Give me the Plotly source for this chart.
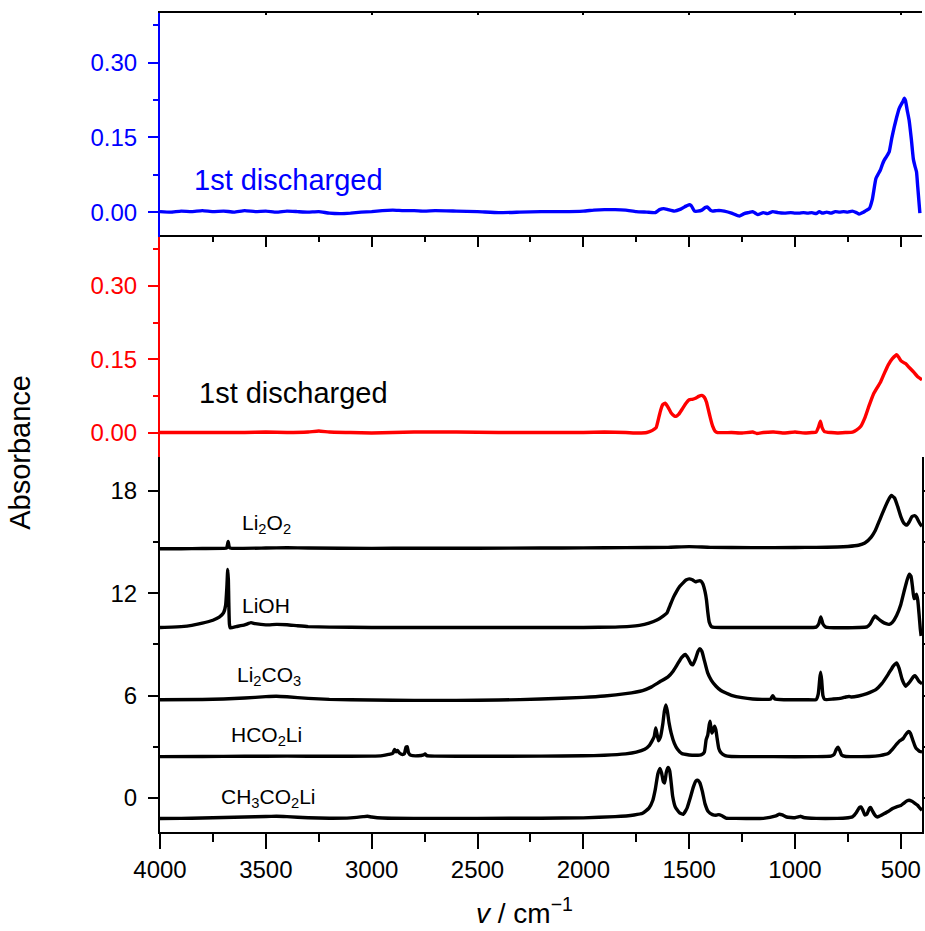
import plotly.graph_objects as go

# ---------------- spectra (wavenumber in cm^-1, absorbance) ----------------
# top panel: 1st discharged electrode (blue)
wn_blue = [4000, 3950, 3900, 3850, 3800, 3750, 3700, 3650, 3600, 3550, 3500, 3450, 3400, 3350,
           3300, 3250, 3200, 3150, 3100, 3050, 3000, 2950, 2900, 2850, 2800, 2750, 2700, 2600,
           2500, 2400, 2300, 2200, 2100, 2000, 1950, 1900, 1850, 1800, 1750, 1700, 1660, 1640,
           1620, 1600, 1570, 1540, 1515, 1500, 1490, 1475, 1460, 1440, 1425, 1413, 1400, 1389,
           1370, 1350, 1334, 1300, 1263, 1240, 1220, 1200, 1176, 1150, 1130, 1105, 1080, 1050,
           1020, 1000, 980, 960, 940, 920, 900, 885, 870, 850, 830, 810, 790, 770, 750, 730, 710,
           697, 680, 665, 649, 635, 618, 605, 597, 588, 579, 567, 555, 543, 531, 520, 508, 496,
           490, 484, 478, 470, 461, 450, 441, 433, 426, 420, 410]
ab_blue = [0.001, 0.000, 0.002, 0.001, 0.003, 0.001, 0.002, 0.000, 0.003, 0.001, 0.002, 0.000,
           0.002, 0.001, 0.000, 0.001, -0.002, -0.003, -0.002, 0.000, 0.001, 0.003, 0.004, 0.003,
           0.003, 0.002, 0.003, 0.002, 0.001, -0.001, 0.000, 0.001, 0.001, 0.002, 0.004, 0.005,
           0.005, 0.004, 0.001, 0.000, -0.001, 0.005, 0.007, 0.005, 0.002, 0.006, 0.012, 0.015,
           0.013, 0.002, 0.002, 0.004, 0.009, 0.010, 0.004, 0.002, 0.003, 0.003, 0.002, -0.002,
           -0.008, -0.003, -0.001, 0.001, -0.005, -0.001, -0.003, 0.001, -0.001, -0.002, -0.001,
           -0.002, -0.002, -0.001, -0.002, -0.001, -0.003, 0.001, -0.002, 0.000, -0.002, 0.001,
           0.000, 0.001, 0.000, 0.002, -0.001, -0.004, -0.001, 0.003, 0.007, 0.025, 0.067, 0.078,
           0.084, 0.095, 0.104, 0.112, 0.121, 0.148, 0.171, 0.190, 0.208, 0.218, 0.222, 0.229,
           0.224, 0.205, 0.185, 0.145, 0.107, 0.092, 0.081, 0.050, -0.002]

# middle panel: 1st discharged electrode (red)
wn_red = [4000, 3800, 3600, 3500, 3400, 3300, 3250, 3200, 3100, 3000, 2900, 2800, 2600, 2400,
          2200, 2000, 1900, 1800, 1740, 1700, 1680, 1665, 1656, 1645, 1635, 1625, 1613, 1600,
          1585, 1570, 1562, 1550, 1530, 1515, 1500, 1485, 1470, 1455, 1440, 1428, 1418, 1410,
          1400, 1389, 1378, 1366, 1300, 1250, 1200, 1180, 1150, 1100, 1050, 1000, 950, 920, 900,
          890, 880, 872, 861, 830, 800, 760, 728, 710, 689, 670, 650, 630, 610, 595, 579, 560,
          540, 520, 510, 500, 490, 477, 460, 440, 420, 400]
ab_red = [0.000, 0.000, 0.000, 0.001, 0.000, 0.001, 0.003, 0.001, 0.000, -0.001, 0.000, 0.001,
          0.001, 0.000, 0.000, 0.000, 0.001, 0.000, -0.001, 0.000, 0.003, 0.007, 0.010, 0.028,
          0.045, 0.057, 0.060, 0.052, 0.040, 0.034, 0.033, 0.037, 0.050, 0.060, 0.067, 0.068,
          0.070, 0.074, 0.076, 0.072, 0.062, 0.048, 0.030, 0.013, 0.003, 0.000, 0.000, -0.001,
          0.001, -0.002, 0.000, 0.001, -0.001, 0.001, -0.001, 0.000, 0.001, 0.010, 0.023, 0.010,
          0.002, 0.000, -0.001, 0.000, 0.001, 0.005, 0.013, 0.030, 0.055, 0.078, 0.093, 0.104,
          0.120, 0.138, 0.151, 0.159, 0.154, 0.147, 0.144, 0.141, 0.133, 0.124, 0.114, 0.108]

# bottom panel: reference compounds, stacked with vertical offsets
wn_li2o2 = [4000, 3900, 3800, 3700, 3685, 3678, 3672, 3660, 3500, 3400, 3300, 3000, 2800, 2500,
            2200, 2000, 1800, 1600, 1500, 1400, 1200, 1000, 900, 800, 750, 700, 670, 640, 620,
            600, 580, 560, 545, 530, 515, 500, 485, 472, 460, 448, 435, 425, 415, 405, 400]
ab_li2o2 = [14.62, 14.62, 14.63, 14.64, 14.66, 15.05, 14.68, 14.64, 14.66, 14.68, 14.66, 14.64,
            14.65, 14.65, 14.66, 14.67, 14.68, 14.70, 14.74, 14.70, 14.68, 14.69, 14.70, 14.72,
            14.75, 14.82, 14.95, 15.30, 15.70, 16.30, 16.90, 17.45, 17.74, 17.60, 17.10, 16.50,
            16.10, 16.00, 16.20, 16.50, 16.56, 16.45, 16.20, 16.00, 15.95]

wn_lioh = [4000, 3900, 3850, 3800, 3750, 3720, 3700, 3690, 3684, 3680, 3677, 3675, 3672, 3668,
           3640, 3600, 3570, 3550, 3500, 3450, 3400, 3350, 3300, 3200, 3000, 2500, 2000, 1850,
           1780, 1735, 1690, 1650, 1620, 1605, 1590, 1575, 1560, 1545, 1530, 1515, 1500, 1485,
           1470, 1460, 1445, 1435, 1425, 1418, 1412, 1405, 1395, 1380, 1200, 1000, 900, 888,
           878, 868, 855, 700, 660, 645, 632, 622, 610, 590, 570, 555, 540, 520, 500, 485, 470,
           460, 452, 445, 438, 432, 426, 420, 414, 408, 404]
ab_lioh = [10.00, 10.05, 10.12, 10.25, 10.42, 10.60, 10.85, 11.30, 12.40, 13.40, 12.80, 11.50,
           10.20, 9.98, 10.05, 10.15, 10.28, 10.22, 10.15, 10.18, 10.16, 10.10, 10.05, 10.02,
           10.00, 10.00, 10.00, 10.02, 10.06, 10.12, 10.25, 10.45, 10.70, 10.85, 11.30, 11.75,
           12.10, 12.40, 12.60, 12.78, 12.85, 12.80, 12.68, 12.72, 12.73, 12.55, 12.10, 11.60,
           10.90, 10.30, 10.05, 10.00, 10.00, 10.00, 10.02, 10.20, 10.62, 10.20, 10.02, 10.00,
           10.03, 10.20, 10.50, 10.67, 10.55, 10.35, 10.22, 10.18, 10.30, 10.70, 11.35, 12.10,
           12.80, 13.12, 13.00, 12.40, 11.70, 11.75, 11.95, 11.60, 10.80, 9.90, 9.50]

wn_li2co3 = [4000, 3800, 3700, 3600, 3500, 3450, 3400, 3300, 3200, 3000, 2800, 2600, 2400, 2200,
             2000, 1900, 1800, 1720, 1680, 1640, 1600, 1575, 1555, 1535, 1518, 1505, 1490, 1482,
             1470, 1458, 1449, 1440, 1428, 1413, 1395, 1373, 1350, 1326, 1300, 1250, 1200, 1150,
             1115, 1105, 1095, 1050, 950, 900, 890, 883, 879, 874, 868, 860, 820, 780, 760, 745,
             735, 700, 660, 618, 590, 560, 535, 520, 508, 495, 485, 477, 465, 450, 440, 433, 425,
             415, 405, 400]
ab_li2co3 = [5.76, 5.77, 5.80, 5.86, 5.94, 5.96, 5.93, 5.84, 5.78, 5.74, 5.72, 5.72, 5.74, 5.80,
             5.90, 5.98, 6.12, 6.30, 6.50, 6.80, 7.10, 7.45, 7.85, 8.25, 8.42, 8.20, 7.85, 7.82,
             8.15, 8.60, 8.75, 8.60, 8.05, 7.35, 6.90, 6.55, 6.30, 6.15, 6.02, 5.88, 5.80, 5.78,
             5.80, 6.00, 5.80, 5.76, 5.76, 5.77, 6.10, 7.00, 7.37, 6.90, 6.00, 5.78, 5.80, 5.85,
             5.92, 5.95, 5.92, 5.98, 6.12, 6.35, 6.70, 7.25, 7.75, 7.92, 7.60, 7.00, 6.70, 6.55,
             6.70, 6.95, 7.12, 7.17, 7.05, 6.85, 6.74, 6.70]

wn_hco2li = [4000, 3800, 3600, 3400, 3200, 3000, 2950, 2920, 2900, 2892, 2885, 2878, 2870, 2855,
             2845, 2838, 2832, 2826, 2815, 2780, 2755, 2748, 2740, 2700, 2500, 2200, 2000, 1900,
             1800, 1750, 1710, 1690, 1675, 1665, 1658, 1652, 1645, 1635, 1625, 1617, 1610, 1603,
             1595, 1585, 1570, 1555, 1535, 1500, 1470, 1440, 1428, 1420, 1412, 1405, 1401, 1396,
             1392, 1386, 1380, 1374, 1368, 1360, 1350, 1330, 1300, 1100, 900, 830, 815, 805, 797,
             789, 780, 760, 650, 600, 560, 540, 520, 505, 498, 488, 475, 463, 455, 445, 435, 428,
             418, 410, 400]
ab_hco2li = [2.42, 2.43, 2.44, 2.45, 2.44, 2.45, 2.48, 2.55, 2.62, 2.85, 2.70, 2.78, 2.65, 2.55,
             2.60, 2.98, 3.00, 2.65, 2.50, 2.47, 2.52, 2.58, 2.48, 2.45, 2.44, 2.45, 2.47, 2.50,
             2.58, 2.68, 2.85, 3.05, 3.35, 3.60, 4.10, 3.75, 3.35, 3.60, 4.30, 5.10, 5.46, 5.10,
             4.40, 3.80, 3.20, 2.85, 2.60, 2.52, 2.50, 2.55, 2.70, 3.40, 3.70, 4.30, 4.50, 4.00,
             3.80, 4.00, 4.20, 4.00, 3.50, 2.90, 2.65, 2.48, 2.43, 2.42, 2.42, 2.45, 2.55, 2.85,
             2.97, 2.80, 2.52, 2.43, 2.43, 2.48, 2.60, 2.85, 3.15, 3.35, 3.40, 3.50, 3.75, 3.90,
             3.80, 3.45, 3.10, 2.91, 2.80, 2.72, 2.70]

wn_ch3co2li = [4000, 3900, 3800, 3700, 3600, 3500, 3450, 3400, 3300, 3200, 3100, 3040, 3020, 3000,
               2950, 2800, 2500, 2200, 2000, 1850, 1760, 1720, 1690, 1672, 1660, 1648, 1638, 1630,
               1622, 1616, 1608, 1600, 1592, 1585, 1578, 1565, 1545, 1528, 1510, 1495, 1480, 1468,
               1460, 1450, 1438, 1425, 1410, 1390, 1373, 1360, 1345, 1326, 1280, 1150, 1090, 1074,
               1060, 1040, 1000, 980, 972, 960, 900, 800, 760, 728, 710, 695, 689, 680, 670, 660,
               648, 642, 635, 620, 610, 590, 560, 539, 520, 500, 485, 470, 461, 450, 435, 421, 410,
               400]
ab_ch3co2li = [-1.21, -1.20, -1.18, -1.15, -1.12, -1.09, -1.08, -1.10, -1.16, -1.19, -1.17, -1.10,
               -1.08, -1.12, -1.18, -1.20, -1.20, -1.19, -1.17, -1.10, -1.00, -0.90, -0.60, -0.15,
               0.50, 1.40, 1.73, 1.45, 0.95, 0.88, 1.50, 1.79, 1.60, 0.90, 0.10, -0.55, -0.88,
               -0.96, -0.60, 0.00, 0.65, 1.00, 1.04, 0.90, 0.40, -0.35, -0.80, -0.98, -1.02, -0.98,
               -1.05, -1.18, -1.20, -1.20, -1.05, -0.96, -1.00, -1.12, -1.16, -1.10, -1.08, -1.15,
               -1.20, -1.20, -1.18, -1.10, -0.85, -0.55, -0.53, -0.70, -1.00, -0.95, -0.60, -0.57,
               -0.75, -1.05, -1.12, -1.00, -0.80, -0.62, -0.52, -0.45, -0.30, -0.17, -0.14, -0.18,
               -0.30, -0.43, -0.60, -0.72]

# labels of the reference spectra
ref_labels = ["Li<sub>2</sub>O<sub>2</sub>", "LiOH", "Li<sub>2</sub>CO<sub>3</sub>",
              "HCO<sub>2</sub>Li", "CH<sub>3</sub>CO<sub>2</sub>Li"]
panel_label = "1st discharged"

FONT = "Liberation Sans, Arial, sans-serif"
LW = 3.4

fig = go.Figure()


def add_line(x, y, color, xa, ya):
    fig.add_trace(go.Scatter(x=x, y=y, mode="lines", xaxis=xa, yaxis=ya,
                             line=dict(color=color, width=LW, shape="spline", smoothing=0.4),
                             showlegend=False, hoverinfo="skip"))


add_line(wn_blue, ab_blue, "#0000FF", "x4", "y3")
add_line(wn_red, ab_red, "#FF0000", "x3", "y2")
for wn, ab in [(wn_li2o2, ab_li2o2), (wn_lioh, ab_lioh), (wn_li2co3, ab_li2co3),
               (wn_hco2li, ab_hco2li), (wn_ch3co2li, ab_ch3co2li)]:
    add_line(wn, ab, "black", "x", "y")

XR = [4000, 400]
D_BOT = [0, 0.4579]
D_MID = [0.4579, 0.7265]
D_TOP = [0.7265, 1.0]


def xaxis_common(**kw):
    d = dict(range=XR, dtick=500, tick0=0, showline=True, linecolor="black", linewidth=2,
             showgrid=False, zeroline=False, tickcolor="black", tickwidth=2, automargin=False)
    d.update(kw)
    return d


def yaxis_common(color, **kw):
    d = dict(showline=True, linecolor=color, linewidth=2, showgrid=False, zeroline=False,
             ticks="outside", ticklen=10, tickwidth=2, tickcolor=color, automargin=False,
             tickfont=dict(family=FONT, size=24, color=color), ticklabelstandoff=6)
    d.update(kw)
    return d


fig.update_layout(
    width=925, height=931,
    margin=dict(l=160, r=3, t=13, b=99, autoexpand=False),
    paper_bgcolor="white", plot_bgcolor="white",
    font=dict(family=FONT, color="black"),
    xaxis=xaxis_common(anchor="y", side="bottom", ticks="outside", ticklen=15,
                       tickfont=dict(family=FONT, size=24, color="black"),
                       minor=dict(dtick=250, tick0=0, ticks="outside", ticklen=8, tickwidth=2,
                                  tickcolor="black")),
    xaxis2=xaxis_common(anchor="y", overlaying="x", side="top", ticks="inside", ticklen=15,
                        showticklabels=False,
                        minor=dict(dtick=250, tick0=0, ticks="inside", ticklen=8, tickwidth=2,
                                   tickcolor="black")),
    xaxis3=xaxis_common(anchor="y2", side="top", ticks="inside", ticklen=10,
                        showticklabels=False,
                        minor=dict(dtick=250, tick0=0, ticks="inside", ticklen=5, tickwidth=2,
                                   tickcolor="black")),
    xaxis4=xaxis_common(anchor="y3", side="top", ticks="inside", ticklen=2,
                        showticklabels=False),
    yaxis=yaxis_common("black", domain=D_BOT, anchor="x", range=[-2, 20], tick0=0, dtick=6,
                       mirror="ticks",
                       minor=dict(dtick=3, tick0=0, ticks="outside", ticklen=5, tickwidth=2,
                                  tickcolor="black")),
    yaxis2=yaxis_common("#FF0000", domain=D_MID, anchor="x3", range=[-0.05, 0.40], tick0=0,
                        dtick=0.15, tickformat=".2f",
                        minor=dict(dtick=0.075, tick0=0, ticks="outside", ticklen=5,
                                   tickwidth=2, tickcolor="#FF0000")),
    yaxis3=yaxis_common("#0000FF", domain=D_TOP, anchor="x4", range=[-0.05, 0.40], tick0=0,
                        dtick=0.15, tickformat=".2f",
                        minor=dict(dtick=0.075, tick0=0, ticks="outside", ticklen=5,
                                   tickwidth=2, tickcolor="#0000FF")),
    yaxis4=yaxis_common("black", overlaying="y2", side="right", anchor="x3",
                        range=[-0.05, 0.40], tick0=0, dtick=0.15, showticklabels=False,
                        minor=dict(dtick=0.075, tick0=0, ticks="outside", ticklen=5,
                                   tickwidth=2, tickcolor="black")),
    yaxis5=yaxis_common("black", overlaying="y3", side="right", anchor="x4",
                        range=[-0.05, 0.40], tick0=0, dtick=0.15, showticklabels=False,
                        minor=dict(dtick=0.075, tick0=0, ticks="outside", ticklen=5,
                                   tickwidth=2, tickcolor="black")),
)

annotations = [
    dict(text="Absorbance", x=-0.184, y=0.464, textangle=-90, font=dict(size=29)),
    dict(text="<i>v</i> / cm<sup>\u22121</sup>", x=0.479, y=-0.097, font=dict(size=28)),
    dict(text=panel_label, x=0.042, y=0.796, xanchor="left", font=dict(size=29, color="#0000FF")),
    dict(text=panel_label, x=0.0486, y=0.536, xanchor="left", font=dict(size=29, color="black")),
]
ref_pos = [(0.105, 0.376), (0.105, 0.277), (0.0984, 0.191), (0.0906, 0.117), (0.0774, 0.042)]
for lab, (px, py) in zip(ref_labels, ref_pos):
    annotations.append(dict(text=lab, x=px, y=py, xanchor="left", font=dict(size=21)))

for a in annotations:
    a.setdefault("xref", "paper")
    a.setdefault("yref", "paper")
    a.setdefault("showarrow", False)
    a.setdefault("xanchor", "center")
    a.setdefault("yanchor", "middle")
    a["font"].setdefault("family", FONT)
    a["font"].setdefault("color", "black")
fig.update_layout(annotations=annotations)

fig.write_html("out.html")
